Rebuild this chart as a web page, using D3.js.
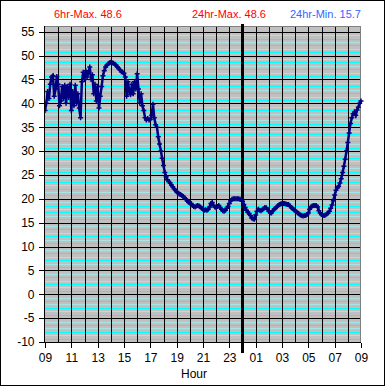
<!DOCTYPE html>
<html><head><meta charset="utf-8">
<script src="https://cdn.jsdelivr.net/npm/d3@7"></script>
<style>html,body{margin:0;padding:0;background:#fff;}svg{display:block;font-family:"Liberation Sans",Arial,sans-serif;}</style>
</head><body><svg id="c" width="385" height="388"></svg>
<script>
// Data: temperature readings every 0.1 h starting at 09:00
const stepHours = 0.1;
const temps = [
38.5,40.0,42.5,41.0,44.0,45.5,45.8,41.5,43.0,45.6,
44.0,39.5,40.5,43.5,41.0,43.8,40.0,43.5,41.2,44.0,
38.5,42.5,39.5,43.8,40.0,42.0,39.0,37.0,44.5,46.5,
45.0,46.8,45.5,46.5,47.6,45.0,46.0,42.0,44.0,40.5,
43.5,39.0,41.5,43.5,45.8,46.8,47.6,48.0,48.3,48.5,
48.6,48.5,48.4,48.2,48.0,47.6,47.3,47.0,46.6,46.5,
46.3,45.5,41.5,44.5,42.5,41.8,44.0,42.0,44.5,43.0,
46.2,43.0,40.0,42.0,39.5,38.5,37.0,36.5,36.8,36.5,
36.6,37.5,39.8,37.0,35.5,35.0,33.0,31.5,30.0,28.5,
27.0,25.5,24.6,24.0,23.6,23.3,22.9,22.5,22.1,21.8,
21.5,21.2,21.0,20.9,20.7,20.5,20.2,19.9,19.6,19.3,
19.1,19.0,18.6,18.4,18.3,18.5,18.6,18.5,18.3,18.0,
17.8,17.6,17.7,17.6,17.8,18.3,19.0,19.2,18.6,18.3,
18.1,18.4,18.6,18.2,17.8,17.5,17.4,17.6,18.0,18.4,
19.0,19.6,19.9,20.0,20.0,20.0,20.0,20.0,19.9,19.9,
19.5,18.8,18.2,17.6,17.2,16.9,16.5,16.0,15.8,15.7,
16.6,17.4,17.8,17.6,17.5,17.7,17.9,18.2,18.1,17.8,
17.4,17.1,17.0,17.5,17.8,18.0,18.3,18.6,18.8,18.9,
19.0,19.0,19.0,18.9,18.8,18.8,18.5,18.2,18.0,17.7,
17.5,17.3,17.0,16.8,16.6,16.5,16.4,16.5,16.5,16.7,
17.0,17.8,18.3,18.5,18.6,18.6,18.6,18.3,17.5,17.0,
16.7,16.5,16.5,16.6,16.8,17.0,17.4,18.0,18.7,19.6,
20.8,21.8,22.3,22.6,23.3,24.2,25.5,26.8,28.3,30.0,
31.8,33.8,35.8,37.0,37.8,38.2,37.5,38.6,39.2,40.0,
40.5
];
const yTicks = [-10,-5,0,5,10,15,20,25,30,35,40,45,50,55];
const xTickHours = [0,2,4,6,8,10,12,14,16,18,20,22,24];
const xTickLabels = ["09","11","13","15","17","19","21","23","01","03","05","07","09"];
const titles = [
  {text:"6hr-Max. 48.6", color:"#ff0000"},
  {text:"24hr-Max. 48.6", color:"#ff0000"},
  {text:"24hr-Min. 15.7", color:"#3366ff"}
];
const midnightHour = 15;

const svg = d3.select("#c");
const L=45, R=361, T=26, B=342;
const x = d3.scaleLinear().domain([0,24]).range([L,R]);
const y = d3.scaleLinear().domain([-10,56.2]).range([B,T]);
const px = v => Math.round(v)+0.5;

// outer frame
svg.append("rect").attr("x",0.5).attr("y",0.5).attr("width",384).attr("height",385)
  .attr("fill","#fff").attr("stroke","#000");

// plot background
svg.append("rect").attr("x",L).attr("y",T).attr("width",R-L).attr("height",B-T).attr("fill","#c0c0c0");

// minor cyan lines (7 per 5-unit band)
const g = svg.append("g").attr("shape-rendering","crispEdges");
for (let b=-10; b<55; b+=5) {
  for (let k=1;k<7;k++){
    const v = b + k*5/7;
    g.append("line").attr("x1",L).attr("x2",R).attr("y1",px(y(v))).attr("y2",px(y(v)))
      .attr("stroke", k%2===1 ? "#00ffff" : "#a8e4e4").attr("stroke-width",1);
  }
}
// vertical hour gridlines
for (let h=1; h<24; h++){
  g.append("line").attr("x1",px(x(h))).attr("x2",px(x(h))).attr("y1",T).attr("y2",B).attr("stroke","#000");
}
// major horizontal gridlines
yTicks.forEach(v=>{
  g.append("line").attr("x1",L).attr("x2",R).attr("y1",px(y(v))).attr("y2",px(y(v))).attr("stroke","#000");
});
// top/right border gray
g.append("line").attr("x1",L).attr("x2",R).attr("y1",T+0.5).attr("y2",T+0.5).attr("stroke","#808080");
g.append("line").attr("x1",R-0.5).attr("x2",R-0.5).attr("y1",T).attr("y2",B).attr("stroke","#808080");

// axes
const yAxis = d3.axisLeft(y).tickValues(yTicks).tickSize(6).tickPadding(4).tickFormat(d=>d);
const ya = svg.append("g").attr("transform",`translate(${px(L)-1},0)`).call(yAxis);
ya.select(".domain").attr("stroke","#000").attr("shape-rendering","crispEdges");
ya.selectAll(".tick line").attr("shape-rendering","crispEdges");
ya.selectAll("text").attr("font-size",12).attr("font-family","Liberation Sans, Arial, sans-serif").attr("fill","#000");

const xAxis = d3.axisBottom(x).tickValues(xTickHours).tickSize(5).tickPadding(6)
  .tickFormat((d,i)=>xTickLabels[i]);
const xa = svg.append("g").attr("transform",`translate(0,${px(B)})`).call(xAxis);
xa.select(".domain").attr("stroke","#000").attr("shape-rendering","crispEdges");
xa.selectAll(".tick line").attr("shape-rendering","crispEdges");
xa.selectAll("text").attr("font-size",12).attr("font-family","Liberation Sans, Arial, sans-serif").attr("fill","#000");
// fix domain path offsets so end caps aren't drawn
ya.select(".domain").attr("d",`M0,${T}V${px(B)}`);
xa.select(".domain").attr("d",`M${L},0H${R}`);

// midnight line
svg.append("line").attr("x1",x(midnightHour)).attr("x2",x(midnightHour)).attr("y1",24).attr("y2",353)
  .attr("stroke","#000").attr("stroke-width",3);

// data
const pts = temps.map((v,i)=>({h:i*stepHours, v}));
const clip = svg.append("clipPath").attr("id","pc").append("rect").attr("x",L).attr("y",T-4).attr("width",R-L+3).attr("height",B-T+4);
const dg = svg.append("g").attr("clip-path","url(#pc)");
dg.append("path").datum(pts)
  .attr("d", d3.line().x(d=>x(d.h)).y(d=>y(d.v)))
  .attr("fill","none").attr("stroke","#000080").attr("stroke-width",2.5);
dg.selectAll("path.m").data(pts).join("path").attr("class","m")
  .attr("d", d=>{const cx=x(d.h), cy=y(d.v); return `M${cx-2.5},${cy}H${cx+2.5}M${cx},${cy-2.5}V${cy+2.5}`;})
  .attr("stroke","#000080").attr("stroke-width",1.5).attr("fill","none");

// titles
const tx = [54, 192, 290];
titles.forEach((t,i)=>{
  svg.append("text").attr("x",tx[i]).attr("y",18).attr("font-size",11)
    .attr("fill",t.color).text(t.text);
});
// x axis title
svg.append("text").attr("x",194).attr("y",378).attr("text-anchor","middle").attr("font-size",12).text("Hour");
</script></body></html>
